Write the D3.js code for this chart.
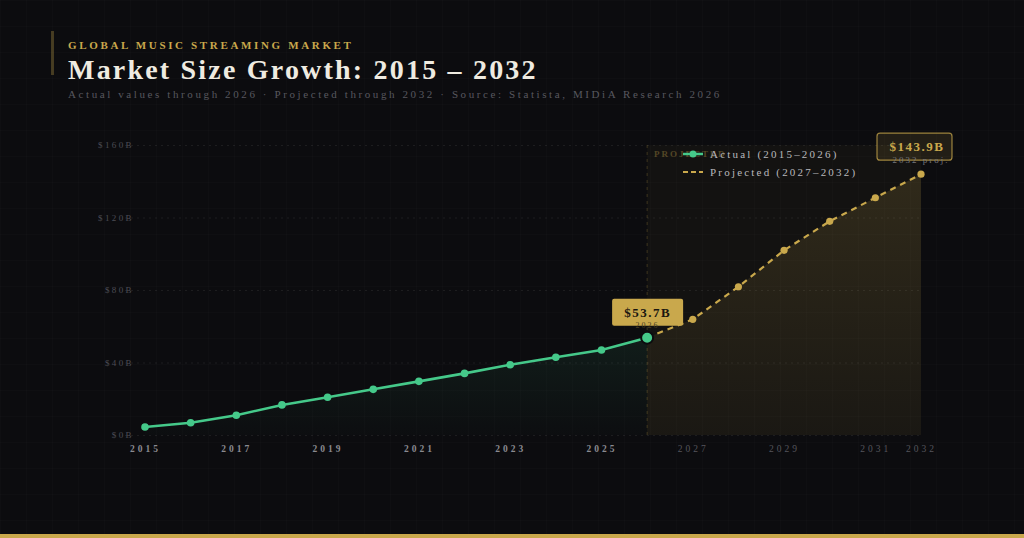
<!DOCTYPE html>
<html>
<head>
<meta charset="utf-8">
<script src="https://cdn.jsdelivr.net/npm/d3@7"></script>
<style>
  html, body { margin: 0; padding: 0; background: #0c0c0f; }
  svg { display: block; font-family: "Liberation Serif", "Times New Roman", serif; }
</style>
</head>
<body>
<svg id="chart"></svg>
<script>
// Chart data
const actualYears = [2015, 2016, 2017, 2018, 2019, 2020, 2021, 2022, 2023, 2024, 2025, 2026];
const actualValues = [4.4, 6.8, 10.9, 16.6, 20.8, 25.2, 29.6, 34.0, 38.8, 42.9, 46.9, 53.7];
const projYears = [2026, 2027, 2028, 2029, 2030, 2031, 2032];
const projValues = [53.7, 63.8, 81.8, 101.9, 117.9, 130.9, 143.9];
const xTicks = [2015, 2017, 2019, 2021, 2023, 2025, 2027, 2029, 2031, 2032];
const yTicks = [0, 40, 80, 120, 160];

const width = 1024;
const height = 538;
const gold = "#c9a84c";
const green = "#45c98a";

const svg = d3.select("#chart")
    .attr("width", width)
    .attr("height", height);

const defs = svg.append("defs");

// Background grid pattern
const pat = defs.append("pattern")
    .attr("id", "bggrid")
    .attr("width", 26).attr("height", 26)
    .attr("patternUnits", "userSpaceOnUse");
pat.append("path")
    .attr("d", "M26 0 L0 0 0 26")
    .attr("fill", "none")
    .attr("stroke", "#ffffff")
    .attr("stroke-opacity", 0.025);

svg.append("rect").attr("width", width).attr("height", height).attr("fill", "#0c0c0f");
svg.append("rect").attr("width", width).attr("height", height).attr("fill", "url(#bggrid)");

// gradients
const gGreen = defs.append("linearGradient").attr("id", "gGreen")
    .attr("x1", 0).attr("y1", 0).attr("x2", 0).attr("y2", 1);
gGreen.append("stop").attr("offset", "0%").attr("stop-color", green).attr("stop-opacity", 0.09);
gGreen.append("stop").attr("offset", "100%").attr("stop-color", green).attr("stop-opacity", 0.01);

const gGold = defs.append("linearGradient").attr("id", "gGold")
    .attr("x1", 0).attr("y1", 0).attr("x2", 0).attr("y2", 1);
gGold.append("stop").attr("offset", "0%").attr("stop-color", gold).attr("stop-opacity", 0.16);
gGold.append("stop").attr("offset", "100%").attr("stop-color", gold).attr("stop-opacity", 0.04);

// Header
svg.append("rect").attr("x", 51).attr("y", 31).attr("width", 3).attr("height", 44)
    .attr("fill", gold).attr("opacity", 0.3);

svg.append("text")
    .attr("x", 68).attr("y", 49)
    .attr("fill", gold)
    .attr("font-size", 11)
    .attr("font-weight", "bold")
    .attr("letter-spacing", 2.65)
    .text("GLOBAL MUSIC STREAMING MARKET");

svg.append("text")
    .attr("x", 68).attr("y", 79)
    .attr("fill", "#efebe1")
    .attr("font-size", 28)
    .attr("font-weight", "bold")
    .attr("letter-spacing", 2.2)
    .text("Market Size Growth: 2015 \u2013 2032");

svg.append("text")
    .attr("x", 68).attr("y", 98)
    .attr("fill", "#58585f")
    .attr("font-size", 11)
    .attr("letter-spacing", 2.6)
    .text("Actual values through 2026 \u00b7 Projected through 2032 \u00b7 Source: Statista, MIDiA Research 2026");

// Scales
const x = d3.scaleLinear().domain([2015, 2032]).range([145, 921]);
const y = d3.scaleLinear().domain([0, 160]).range([435, 145]);

// Projection band
svg.append("rect")
    .attr("x", x(2026)).attr("y", y(160))
    .attr("width", x(2032) - x(2026)).attr("height", y(0) - y(160))
    .attr("fill", gold).attr("opacity", 0.04);
svg.append("line")
    .attr("x1", x(2026)).attr("x2", x(2026))
    .attr("y1", y(160)).attr("y2", y(0))
    .attr("stroke", gold).attr("stroke-opacity", 0.25)
    .attr("stroke-dasharray", "3,4");
svg.append("text")
    .attr("x", x(2026) + 7).attr("y", 157)
    .attr("fill", gold).attr("opacity", 0.35)
    .attr("font-size", 9).attr("font-weight", "bold")
    .attr("letter-spacing", 2)
    .text("PROJECTED");

// Y grid + labels
const yAxis = svg.append("g")
    .attr("transform", "translate(145,0)")
    .call(d3.axisLeft(y).tickValues(yTicks).tickSize(-(921 - 145 + 20)).tickFormat(d => "$" + d + "B"));
yAxis.select(".domain").remove();
yAxis.selectAll(".tick line")
    .attr("stroke", "#ffffff").attr("stroke-opacity", 0.07)
    .attr("stroke-dasharray", "2,4")
    .attr("transform", "translate(-20,0)");
yAxis.selectAll(".tick text")
    .attr("x", -11)
    .attr("fill", "#4c4c56")
    .attr("font-size", 9)
    .attr("letter-spacing", 2.4)
    .attr("font-family", "Liberation Serif, serif");

// X labels
const xAxis = svg.append("g")
    .attr("transform", "translate(0,435)")
    .call(d3.axisBottom(x).tickValues(xTicks).tickSize(0).tickPadding(10).tickFormat(d3.format("d")));
xAxis.select(".domain").remove();
xAxis.selectAll(".tick text")
    .attr("fill", d => d <= 2026 ? "#8a8a90" : "#55555c")
    .attr("font-size", 9.5)
    .attr("font-weight", d => d <= 2026 ? "bold" : "normal")
    .attr("letter-spacing", 3)
    .attr("font-family", "Liberation Serif, serif");

const actual = actualYears.map((d, i) => [d, actualValues[i]]);
const proj = projYears.map((d, i) => [d, projValues[i]]);

const area = d3.area().x(d => x(d[0])).y0(y(0)).y1(d => y(d[1]));
const line = d3.line().x(d => x(d[0])).y(d => y(d[1]));

svg.append("path").datum(actual).attr("d", area).attr("fill", "url(#gGreen)");
svg.append("path").datum(proj).attr("d", area).attr("fill", "url(#gGold)");

svg.append("path").datum(proj).attr("d", line)
    .attr("fill", "none").attr("stroke", gold)
    .attr("stroke-width", 2.2).attr("stroke-dasharray", "6,5");
svg.append("path").datum(actual).attr("d", line)
    .attr("fill", "none").attr("stroke", green).attr("stroke-width", 2.6);

svg.selectAll(".pdot").data(proj.slice(1)).enter().append("circle")
    .attr("cx", d => x(d[0])).attr("cy", d => y(d[1]))
    .attr("r", 3.6).attr("fill", gold);

svg.selectAll(".adot").data(actual.slice(0, -1)).enter().append("circle")
    .attr("cx", d => x(d[0])).attr("cy", d => y(d[1]))
    .attr("r", 3.8).attr("fill", green);

const last = actual[actual.length - 1];
svg.append("circle")
    .attr("cx", x(last[0])).attr("cy", y(last[1]))
    .attr("r", 6).attr("fill", green)
    .attr("stroke", "#0c0c0f").attr("stroke-width", 2);

// Callout 2026
const c1x = x(last[0]) - 35, c1y = y(last[1]) - 39;
svg.append("rect")
    .attr("x", c1x).attr("y", c1y).attr("width", 71).attr("height", 27)
    .attr("rx", 2).attr("fill", gold);
svg.append("text")
    .attr("x", c1x + 35.5).attr("y", c1y + 18)
    .attr("text-anchor", "middle")
    .attr("fill", "#1a1610").attr("font-size", 13).attr("font-weight", "bold")
    .attr("letter-spacing", 1.5)
    .text("$" + last[1] + "B");
svg.append("text")
    .attr("x", c1x + 35.5).attr("y", c1y + 29)
    .attr("text-anchor", "middle")
    .attr("fill", "#4a3f22").attr("font-size", 8)
    .attr("letter-spacing", 2)
    .text(last[0]);

// Callout 2032
const end = proj[proj.length - 1];
const c2x = x(end[0]) - 44, c2y = y(end[1]) - 41;
svg.append("rect")
    .attr("x", c2x).attr("y", c2y).attr("width", 75).attr("height", 27)
    .attr("rx", 3).attr("fill", gold).attr("fill-opacity", 0.12)
    .attr("stroke", gold).attr("stroke-opacity", 0.75).attr("stroke-width", 1.2);
svg.append("text")
    .attr("x", c2x + 40).attr("y", c2y + 18)
    .attr("text-anchor", "middle")
    .attr("fill", gold).attr("font-size", 13).attr("font-weight", "bold")
    .attr("letter-spacing", 1.5)
    .text("$" + end[1] + "B");
svg.append("text")
    .attr("x", c2x + 44).attr("y", c2y + 30)
    .attr("text-anchor", "middle")
    .attr("fill", "#77777d").attr("font-size", 9)
    .attr("letter-spacing", 2)
    .text(end[0] + " proj.");

// Legend
const leg = svg.append("g").attr("transform", "translate(683,154)");
leg.append("line").attr("x1", 0).attr("x2", 20).attr("y1", 0).attr("y2", 0)
    .attr("stroke", green).attr("stroke-width", 2.5);
leg.append("circle").attr("cx", 10).attr("cy", 0).attr("r", 3.5).attr("fill", green);
leg.append("text").attr("x", 27).attr("y", 4)
    .attr("fill", "#b8b8bc").attr("font-size", 11).attr("letter-spacing", 2.2)
    .text("Actual (2015\u20132026)");
leg.append("line").attr("x1", 0).attr("x2", 20).attr("y1", 18).attr("y2", 18)
    .attr("stroke", gold).attr("stroke-width", 2).attr("stroke-dasharray", "5,3");
leg.append("text").attr("x", 27).attr("y", 22)
    .attr("fill", "#b8b8bc").attr("font-size", 11).attr("letter-spacing", 2.2)
    .text("Projected (2027\u20132032)");

// Bottom bar
svg.append("rect").attr("x", 0).attr("y", 534).attr("width", width).attr("height", 4).attr("fill", gold);
</script>
</body>
</html>
